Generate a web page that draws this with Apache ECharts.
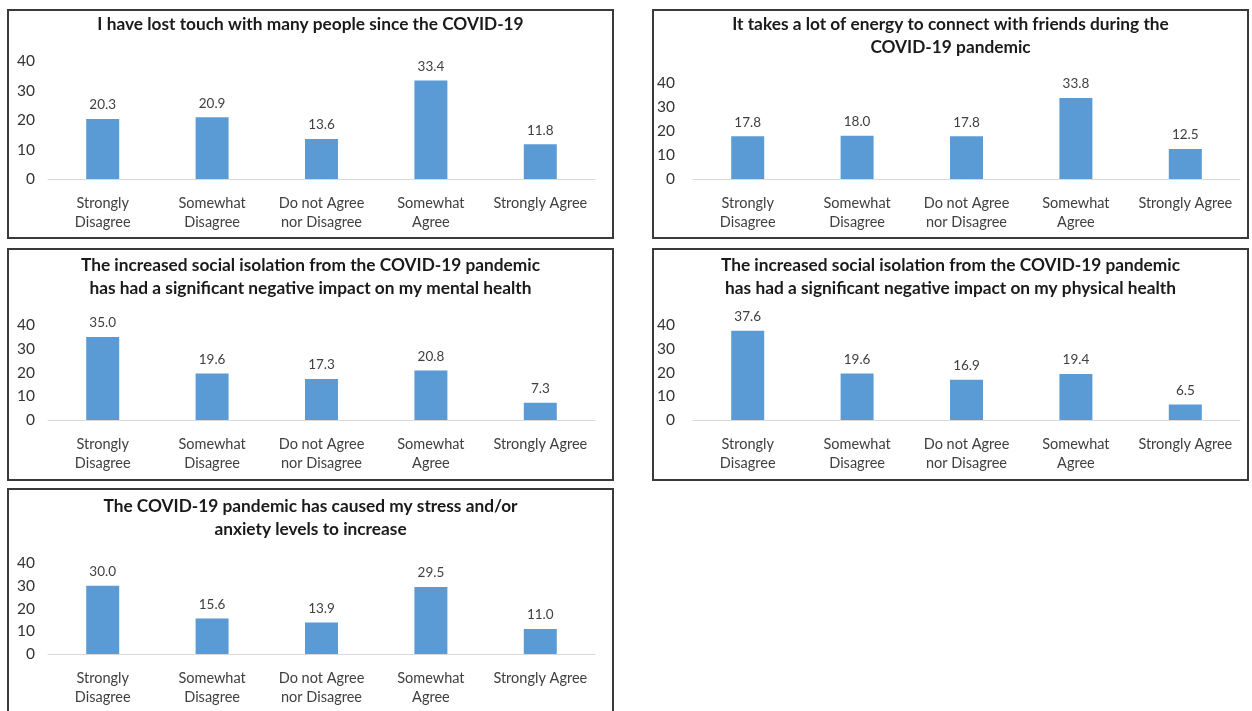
<!DOCTYPE html>
<html><head><meta charset="utf-8">
<script src="https://cdn.jsdelivr.net/npm/echarts@6/dist/echarts.min.js"></script>
<style>html,body{margin:0;padding:0;background:#fff}#c{width:1252px;height:711px}</style>
</head><body><div id="c"></div>
<script>
// ---- data ----
const categories = ['Strongly\nDisagree', 'Somewhat\nDisagree', 'Do not Agree\nnor Disagree', 'Somewhat\nAgree', 'Strongly Agree'];
const titleLostTouch = 'I have lost touch with many people since the COVID-19';
const titleEnergy = 'It takes a lot of energy to connect with friends during the\nCOVID-19 pandemic';
const titleMental = 'The increased social isolation from the COVID-19 pandemic\nhas had a significant negative impact on my mental health';
const titlePhysical = 'The increased social isolation from the COVID-19 pandemic\nhas had a significant negative impact on my physical health';
const titleStress = 'The COVID-19 pandemic has caused my stress and/or\nanxiety levels to increase';
const lostTouch = [20.3, 20.9, 13.6, 33.4, 11.8];
const energyToConnect = [17.8, 18.0, 17.8, 33.8, 12.5];
const mentalHealth = [35.0, 19.6, 17.3, 20.8, 7.3];
const physicalHealth = [37.6, 19.6, 16.9, 19.4, 6.5];
const stressAnxiety = [30.0, 15.6, 13.9, 29.5, 11.0];
const yMin = 0, yMax = 40, yInterval = 10;

// ---- layout ----
const panels = [
  { title: titleLostTouch, data: lostTouch, box: [8, 10, 605, 228], grid: [48, 61, 547, 118], titleTop: 12.5 },
  { title: titleEnergy, data: energyToConnect, box: [653, 10, 595, 228], grid: [693, 83, 547, 96], titleTop: 12.5 },
  { title: titleMental, data: mentalHealth, box: [8, 249, 605, 231], grid: [48, 325, 547, 95], titleTop: 253.5 },
  { title: titlePhysical, data: physicalHealth, box: [653, 249, 595, 231], grid: [693, 325, 547, 95], titleTop: 253.5 },
  { title: titleStress, data: stressAnxiety, box: [8, 489, 605, 240], grid: [48, 563, 547, 91], titleTop: 494.5 }
];

const FONT = 'Lato';
const option = {
  animation: false,
  backgroundColor: '#ffffff',
  title: [], grid: [], xAxis: [], yAxis: [], series: [],
  graphic: []
};

panels.forEach((p, i) => {
  const [bx, by, bw, bh] = p.box;
  option.graphic.push({
    type: 'rect', silent: true,
    shape: { x: bx, y: by, width: bw, height: bh },
    style: { fill: 'none', stroke: '#3a3a3a', lineWidth: 2 }
  });
  option.title.push({
    text: p.title,
    left: bx + bw / 2, top: p.titleTop, textAlign: 'center', padding: 0,
    textStyle: { fontFamily: FONT, fontWeight: 'bold', fontSize: 17.3, color: '#1a1a1a', lineHeight: 23 }
  });
  const [gx, gy, gw, gh] = p.grid;
  option.grid.push({ left: gx, top: gy, width: gw, height: gh, containLabel: false });
  option.xAxis.push({
    type: 'category', gridIndex: i, data: categories,
    axisLine: { lineStyle: { color: '#d9d9d9', width: 1 } },
    axisTick: { show: false },
    axisLabel: { interval: 0, margin: 15, fontFamily: FONT, fontSize: 14.5, lineHeight: 19, color: '#404040' },
    splitLine: { show: false }
  });
  option.yAxis.push({
    type: 'value', gridIndex: i, min: yMin, max: yMax, interval: yInterval,
    axisLine: { show: false }, axisTick: { show: false }, splitLine: { show: false },
    axisLabel: { margin: i % 2 === 0 ? 13 : 18, fontFamily: FONT, fontSize: 15.5, color: '#333333' }
  });
  option.series.push({
    type: 'bar', xAxisIndex: i, yAxisIndex: i, data: p.data,
    barWidth: 33,
    itemStyle: { color: '#5b9bd5' },
    label: {
      show: true, position: 'top', distance: 7,
      formatter: (d) => Number(d.value).toFixed(1),
      fontFamily: FONT, fontSize: 13.5, color: '#404040'
    }
  });
});

const chart = echarts.init(document.getElementById('c'), null, { renderer: 'canvas' });
chart.setOption(option);
</script>
</body></html>
